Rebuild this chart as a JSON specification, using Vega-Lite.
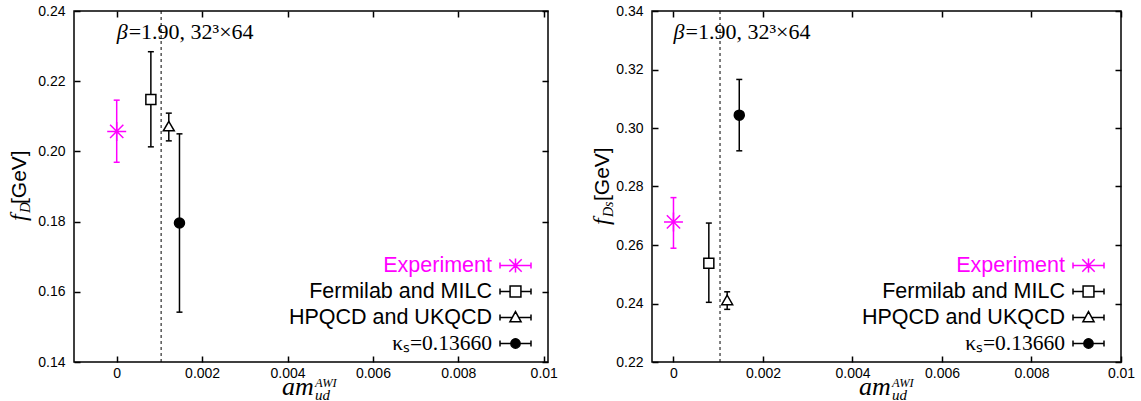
{
  "$schema": "https://vega.github.io/schema/vega-lite/v6.json",
  "background": "white",
  "padding": {"left": 6, "top": 3, "right": 0, "bottom": 0},
  "spacing": 30,
  "datasets": {
    "fD": [
      {"series": "Experiment", "x": 0, "y": 0.2057, "lo": 0.1969, "hi": 0.2146},
      {"series": "Fermilab and MILC", "x": 0.0008, "y": 0.2148, "lo": 0.2013, "hi": 0.2284},
      {"series": "HPQCD and UKQCD", "x": 0.00122, "y": 0.2072, "lo": 0.203, "hi": 0.2109},
      {"series": "κₛ=0.13660", "x": 0.00147, "y": 0.1796, "lo": 0.1542, "hi": 0.205}
    ],
    "fDs": [
      {"series": "Experiment", "x": 0, "y": 0.2679, "lo": 0.2589, "hi": 0.2762},
      {"series": "Fermilab and MILC", "x": 0.00079, "y": 0.2538, "lo": 0.2404, "hi": 0.2675},
      {"series": "HPQCD and UKQCD", "x": 0.0012, "y": 0.2412, "lo": 0.238, "hi": 0.244},
      {"series": "κₛ=0.13660", "x": 0.00147, "y": 0.3044, "lo": 0.2922, "hi": 0.3166}
    ]
  },
  "hconcat": [
    {
      "width": 474,
      "height": 351,
      "data": {"name": "fD"},
      "layer": [
        {
          "data": {"values": [{}]},
          "mark": {"type": "rule", "strokeDash": [3, 3], "strokeWidth": 1, "color": "black"},
          "encoding": {
            "x": {"datum": 0.00104, "type": "quantitative", "scale": {"domain": [-0.001, 0.0101], "nice": false, "zero": false},
                  "axis": {"orient": "top", "labels": false, "title": null, "values": [0, 0.002, 0.004, 0.006, 0.008, 0.01]}}
          }
        },
        {
          "mark": {"type": "rule", "strokeWidth": 1.5},
          "encoding": {
            "x": {"field": "x", "type": "quantitative", "axis": null},
            "y": {"field": "lo", "type": "quantitative", "scale": {"domain": [0.14, 0.24], "nice": false, "zero": false},
                  "axis": {"orient": "right", "labels": false, "title": null, "values": [0.14, 0.16, 0.18, 0.2, 0.22, 0.24]}},
            "y2": {"field": "hi"},
            "stroke": {"condition": {"test": "datum.series === 'Experiment'", "value": "#ff00ff"}, "value": "black"}
          }
        },
        {
          "mark": {"type": "tick", "orient": "horizontal", "size": 6, "thickness": 1.5, "opacity": 1},
          "encoding": {
            "x": {"field": "x", "type": "quantitative", "axis": null},
            "y": {"field": "lo", "type": "quantitative", "axis": null},
            "color": {"condition": {"test": "datum.series === 'Experiment'", "value": "#ff00ff"}, "value": "black"}
          }
        },
        {
          "mark": {"type": "tick", "orient": "horizontal", "size": 6, "thickness": 1.5, "opacity": 1},
          "encoding": {
            "x": {"field": "x", "type": "quantitative", "axis": null},
            "y": {"field": "hi", "type": "quantitative", "axis": null},
            "color": {"condition": {"test": "datum.series === 'Experiment'", "value": "#ff00ff"}, "value": "black"}
          }
        },
        {
          "mark": {"type": "point", "strokeWidth": 1.5, "opacity": 1, "filled": false},
          "encoding": {
            "x": {"field": "x", "type": "quantitative", "axis": {"orient": "bottom", "title": null, "format": "~g", "values": [0, 0.002, 0.004, 0.006, 0.008, 0.01]}},
            "y": {"field": "y", "type": "quantitative", "axis": {"orient": "left", "title": null, "format": ".2f", "values": [0.14, 0.16, 0.18, 0.2, 0.22, 0.24]}},
            "shape": {"condition": [
              {"test": "datum.series === 'Experiment'", "value": "M-1,0H1M0,-1V1M-0.7,-0.7L0.7,0.7M-0.7,0.7L0.7,-0.7"},
              {"test": "datum.series === 'Fermilab and MILC'", "value": "square"},
              {"test": "datum.series === 'HPQCD and UKQCD'", "value": "triangle-up"}
            ], "value": "circle"},
            "size": {"condition": [
              {"test": "datum.series === 'Experiment'", "value": 360},
              {"test": "datum.series === 'HPQCD and UKQCD'", "value": 120}
            ], "value": 100},
            "stroke": {"condition": {"test": "datum.series === 'Experiment'", "value": "#ff00ff"}, "value": "black"},
            "fill": {"condition": [
              {"test": "datum.series === 'Experiment'", "value": "transparent"},
              {"test": "datum.series === 'κₛ=0.13660'", "value": "black"}
            ], "value": "white"}
          }
        },
        {
          "mark": {"type": "point", "opacity": 0, "strokeWidth": 1.5, "size": 841},
          "encoding": {
            "x": {"field": "x", "type": "quantitative", "axis": null},
            "y": {"field": "y", "type": "quantitative", "axis": null},
            "shape": {"field": "series", "type": "nominal",
              "scale": {"domain": ["Experiment", "Fermilab and MILC", "HPQCD and UKQCD", "κₛ=0.13660"],
                        "range": ["M-1.069,0H1.069M-1.069,-0.214V0.214M1.069,-0.214V0.214M-0.588,0H0.588M0,-0.481V0.481M-0.428,-0.428L0.428,0.428M-0.428,0.428L0.428,-0.428M1.42,0",
                                  "M-1.069,0H-0.374M0.374,0H1.069M-1.069,-0.214V0.214M1.069,-0.214V0.214M-0.374,-0.374H0.374V0.374H-0.374ZM1.42,0",
                                  "M-1.069,0H-0.2M0.2,0H1.069M-1.069,-0.214V0.214M1.069,-0.214V0.214M0,-0.406L0.385,0.299H-0.385ZM1.42,0",
                                  "M-1.069,0H1.069M-1.069,-0.214V0.214M1.069,-0.214V0.214M-0.321,0A0.321,0.321 0 1,0 0.321,0A0.321,0.321 0 1,0 -0.321,0ZM1.42,0"]},
              "legend": {"title": null}},
            "stroke": {"field": "series", "type": "nominal",
              "scale": {"domain": ["Experiment", "Fermilab and MILC", "HPQCD and UKQCD", "κₛ=0.13660"], "range": ["#ff00ff", "black", "black", "black"]},
              "legend": {"title": null}},
            "fill": {"field": "series", "type": "nominal",
              "scale": {"domain": ["Experiment", "Fermilab and MILC", "HPQCD and UKQCD", "κₛ=0.13660"], "range": ["transparent", "white", "white", "black"]},
              "legend": {"title": null}}
          }
        },
        {
          "data": {"values": [{}]},
          "mark": {"type": "text", "text": "β", "font": "Liberation Serif", "fontStyle": "italic", "fontSize": 22, "align": "left", "baseline": "alphabetic", "color": "black"},
          "encoding": {"x": {"datum": 0, "type": "quantitative", "axis": null}, "y": {"datum": 0.232, "type": "quantitative", "axis": null}}
        },
        {
          "data": {"values": [{}]},
          "mark": {"type": "text", "text": "=1.90, 32³×64", "font": "Liberation Serif", "fontSize": 22, "align": "left", "baseline": "alphabetic", "dx": 12, "color": "black"},
          "encoding": {"x": {"datum": 0, "type": "quantitative", "axis": null}, "y": {"datum": 0.232, "type": "quantitative", "axis": null}}
        },
        {
          "data": {"values": [{}]},
          "mark": {"type": "text", "text": "am", "font": "Liberation Serif", "fontStyle": "italic", "fontSize": 26, "align": "left", "baseline": "alphabetic", "color": "black"},
          "encoding": {"x": {"datum": 0.003871, "type": "quantitative", "axis": null}, "y": {"datum": 0.1306, "type": "quantitative", "axis": null}}
        },
        {
          "data": {"values": [{}]},
          "mark": {"type": "text", "text": "AWI", "font": "Liberation Serif", "fontStyle": "italic", "fontSize": 12.5, "align": "left", "baseline": "alphabetic", "dx": 33, "dy": -8, "color": "black"},
          "encoding": {"x": {"datum": 0.003871, "type": "quantitative", "axis": null}, "y": {"datum": 0.1306, "type": "quantitative", "axis": null}}
        },
        {
          "data": {"values": [{}]},
          "mark": {"type": "text", "text": "ud", "font": "Liberation Serif", "fontStyle": "italic", "fontSize": 15, "align": "left", "baseline": "alphabetic", "dx": 33, "dy": 5, "color": "black"},
          "encoding": {"x": {"datum": 0.003871, "type": "quantitative", "axis": null}, "y": {"datum": 0.1306, "type": "quantitative", "axis": null}}
        },
        {
          "data": {"values": [{}]},
          "mark": {"type": "text", "text": "f", "font": "Liberation Serif", "fontStyle": "italic", "fontSize": 24, "align": "left", "baseline": "alphabetic", "angle": 270, "color": "black"},
          "encoding": {"x": {"datum": -0.002124, "type": "quantitative", "axis": null}, "y": {"datum": 0.18017, "type": "quantitative", "axis": null}}
        },
        {
          "data": {"values": [{}]},
          "mark": {"type": "text", "text": "D", "font": "Liberation Serif", "fontStyle": "italic", "fontSize": 15, "align": "left", "baseline": "alphabetic", "angle": 270, "dx": 8, "dy": 4, "color": "black"},
          "encoding": {"x": {"datum": -0.002124, "type": "quantitative", "axis": null}, "y": {"datum": 0.18017, "type": "quantitative", "axis": null}}
        },
        {
          "data": {"values": [{}]},
          "mark": {"type": "text", "text": "[GeV]", "font": "Liberation Sans", "fontSize": 21, "align": "left", "baseline": "alphabetic", "angle": 270, "dx": 17, "color": "black"},
          "encoding": {"x": {"datum": -0.002124, "type": "quantitative", "axis": null}, "y": {"datum": 0.18017, "type": "quantitative", "axis": null}}
        }
      ]
    },
    {
      "width": 469,
      "height": 351,
      "data": {"name": "fDs"},
      "layer": [
        {
          "data": {"values": [{}]},
          "mark": {"type": "rule", "strokeDash": [3, 3], "strokeWidth": 1, "color": "black"},
          "encoding": {
            "x": {"datum": 0.00104, "type": "quantitative", "scale": {"domain": [-0.00048, 0.01], "nice": false, "zero": false},
                  "axis": {"orient": "top", "labels": false, "title": null, "values": [0, 0.002, 0.004, 0.006, 0.008, 0.01]}}
          }
        },
        {
          "mark": {"type": "rule", "strokeWidth": 1.5},
          "encoding": {
            "x": {"field": "x", "type": "quantitative", "axis": null},
            "y": {"field": "lo", "type": "quantitative", "scale": {"domain": [0.22, 0.34], "nice": false, "zero": false},
                  "axis": {"orient": "right", "labels": false, "title": null, "values": [0.22, 0.24, 0.26, 0.28, 0.3, 0.32, 0.34]}},
            "y2": {"field": "hi"},
            "stroke": {"condition": {"test": "datum.series === 'Experiment'", "value": "#ff00ff"}, "value": "black"}
          }
        },
        {
          "mark": {"type": "tick", "orient": "horizontal", "size": 6, "thickness": 1.5, "opacity": 1},
          "encoding": {
            "x": {"field": "x", "type": "quantitative", "axis": null},
            "y": {"field": "lo", "type": "quantitative", "axis": null},
            "color": {"condition": {"test": "datum.series === 'Experiment'", "value": "#ff00ff"}, "value": "black"}
          }
        },
        {
          "mark": {"type": "tick", "orient": "horizontal", "size": 6, "thickness": 1.5, "opacity": 1},
          "encoding": {
            "x": {"field": "x", "type": "quantitative", "axis": null},
            "y": {"field": "hi", "type": "quantitative", "axis": null},
            "color": {"condition": {"test": "datum.series === 'Experiment'", "value": "#ff00ff"}, "value": "black"}
          }
        },
        {
          "mark": {"type": "point", "strokeWidth": 1.5, "opacity": 1, "filled": false},
          "encoding": {
            "x": {"field": "x", "type": "quantitative", "axis": {"orient": "bottom", "title": null, "format": "~g", "values": [0, 0.002, 0.004, 0.006, 0.008, 0.01]}},
            "y": {"field": "y", "type": "quantitative", "axis": {"orient": "left", "title": null, "format": ".2f", "values": [0.22, 0.24, 0.26, 0.28, 0.3, 0.32, 0.34]}},
            "shape": {"condition": [
              {"test": "datum.series === 'Experiment'", "value": "M-1,0H1M0,-1V1M-0.7,-0.7L0.7,0.7M-0.7,0.7L0.7,-0.7"},
              {"test": "datum.series === 'Fermilab and MILC'", "value": "square"},
              {"test": "datum.series === 'HPQCD and UKQCD'", "value": "triangle-up"}
            ], "value": "circle"},
            "size": {"condition": [
              {"test": "datum.series === 'Experiment'", "value": 360},
              {"test": "datum.series === 'HPQCD and UKQCD'", "value": 120}
            ], "value": 100},
            "stroke": {"condition": {"test": "datum.series === 'Experiment'", "value": "#ff00ff"}, "value": "black"},
            "fill": {"condition": [
              {"test": "datum.series === 'Experiment'", "value": "transparent"},
              {"test": "datum.series === 'κₛ=0.13660'", "value": "black"}
            ], "value": "white"}
          }
        },
        {
          "mark": {"type": "point", "opacity": 0, "strokeWidth": 1.5, "size": 841},
          "encoding": {
            "x": {"field": "x", "type": "quantitative", "axis": null},
            "y": {"field": "y", "type": "quantitative", "axis": null},
            "shape": {"field": "series", "type": "nominal",
              "scale": {"domain": ["Experiment", "Fermilab and MILC", "HPQCD and UKQCD", "κₛ=0.13660"],
                        "range": ["M-1.069,0H1.069M-1.069,-0.214V0.214M1.069,-0.214V0.214M-0.588,0H0.588M0,-0.481V0.481M-0.428,-0.428L0.428,0.428M-0.428,0.428L0.428,-0.428M1.42,0",
                                  "M-1.069,0H-0.374M0.374,0H1.069M-1.069,-0.214V0.214M1.069,-0.214V0.214M-0.374,-0.374H0.374V0.374H-0.374ZM1.42,0",
                                  "M-1.069,0H-0.2M0.2,0H1.069M-1.069,-0.214V0.214M1.069,-0.214V0.214M0,-0.406L0.385,0.299H-0.385ZM1.42,0",
                                  "M-1.069,0H1.069M-1.069,-0.214V0.214M1.069,-0.214V0.214M-0.321,0A0.321,0.321 0 1,0 0.321,0A0.321,0.321 0 1,0 -0.321,0ZM1.42,0"]},
              "legend": {"title": null}},
            "stroke": {"field": "series", "type": "nominal",
              "scale": {"domain": ["Experiment", "Fermilab and MILC", "HPQCD and UKQCD", "κₛ=0.13660"], "range": ["#ff00ff", "black", "black", "black"]},
              "legend": {"title": null}},
            "fill": {"field": "series", "type": "nominal",
              "scale": {"domain": ["Experiment", "Fermilab and MILC", "HPQCD and UKQCD", "κₛ=0.13660"], "range": ["transparent", "white", "white", "black"]},
              "legend": {"title": null}}
          }
        },
        {
          "data": {"values": [{}]},
          "mark": {"type": "text", "text": "β", "font": "Liberation Serif", "fontStyle": "italic", "fontSize": 22, "align": "left", "baseline": "alphabetic", "color": "black"},
          "encoding": {"x": {"datum": 0, "type": "quantitative", "axis": null}, "y": {"datum": 0.3304, "type": "quantitative", "axis": null}}
        },
        {
          "data": {"values": [{}]},
          "mark": {"type": "text", "text": "=1.90, 32³×64", "font": "Liberation Serif", "fontSize": 22, "align": "left", "baseline": "alphabetic", "dx": 12, "color": "black"},
          "encoding": {"x": {"datum": 0, "type": "quantitative", "axis": null}, "y": {"datum": 0.3304, "type": "quantitative", "axis": null}}
        },
        {
          "data": {"values": [{}]},
          "mark": {"type": "text", "text": "am", "font": "Liberation Serif", "fontStyle": "italic", "fontSize": 26, "align": "left", "baseline": "alphabetic", "color": "black"},
          "encoding": {"x": {"datum": 0.004146, "type": "quantitative", "axis": null}, "y": {"datum": 0.20872, "type": "quantitative", "axis": null}}
        },
        {
          "data": {"values": [{}]},
          "mark": {"type": "text", "text": "AWI", "font": "Liberation Serif", "fontStyle": "italic", "fontSize": 12.5, "align": "left", "baseline": "alphabetic", "dx": 33, "dy": -8, "color": "black"},
          "encoding": {"x": {"datum": 0.004146, "type": "quantitative", "axis": null}, "y": {"datum": 0.20872, "type": "quantitative", "axis": null}}
        },
        {
          "data": {"values": [{}]},
          "mark": {"type": "text", "text": "ud", "font": "Liberation Serif", "fontStyle": "italic", "fontSize": 15, "align": "left", "baseline": "alphabetic", "dx": 33, "dy": 5, "color": "black"},
          "encoding": {"x": {"datum": 0.004146, "type": "quantitative", "axis": null}, "y": {"datum": 0.20872, "type": "quantitative", "axis": null}}
        },
        {
          "data": {"values": [{}]},
          "mark": {"type": "text", "text": "f", "font": "Liberation Serif", "fontStyle": "italic", "fontSize": 24, "align": "left", "baseline": "alphabetic", "angle": 270, "color": "black"},
          "encoding": {"x": {"datum": -0.001441, "type": "quantitative", "axis": null}, "y": {"datum": 0.26683, "type": "quantitative", "axis": null}}
        },
        {
          "data": {"values": [{}]},
          "mark": {"type": "text", "text": "Ds", "font": "Liberation Serif", "fontStyle": "italic", "fontSize": 14, "align": "left", "baseline": "alphabetic", "angle": 270, "dx": 8, "dy": 4, "color": "black"},
          "encoding": {"x": {"datum": -0.001441, "type": "quantitative", "axis": null}, "y": {"datum": 0.26683, "type": "quantitative", "axis": null}}
        },
        {
          "data": {"values": [{}]},
          "mark": {"type": "text", "text": "[GeV]", "font": "Liberation Sans", "fontSize": 21, "align": "left", "baseline": "alphabetic", "angle": 270, "dx": 24, "color": "black"},
          "encoding": {"x": {"datum": -0.001441, "type": "quantitative", "axis": null}, "y": {"datum": 0.26683, "type": "quantitative", "axis": null}}
        }
      ]
    }
  ],
  "resolve": {"scale": {"x": "independent", "y": "independent", "shape": "independent", "stroke": "independent", "fill": "independent"}},
  "config": {
    "view": {"stroke": "black", "strokeWidth": 1.5},
    "axis": {"grid": false, "domain": false, "ticks": true, "tickSize": -6, "tickWidth": 1.5, "tickColor": "black",
             "labelFont": "Liberation Sans", "labelFontSize": 14, "labelColor": "black", "labelFlush": false, "labelOverlap": false},
    "axisX": {"labelPadding": 10},
    "axisY": {"labelPadding": 15},
    "legend": {
      "orient": "bottom-right", "offset": 8, "padding": 0, "labelAlign": "right", "labelOffset": -39,
      "labelFontSize": 21.5, "labelLimit": 0, "rowPadding": 0,
      "labelFont": {"expr": "datum.index === 3 ? 'Liberation Serif' : 'Liberation Sans'"},
      "labelColor": {"expr": "datum.index === 0 ? '#ff00ff' : 'black'"},
      "symbolSize": 841, "symbolStrokeWidth": 1.5, "symbolOpacity": 1
    }
  }
}
